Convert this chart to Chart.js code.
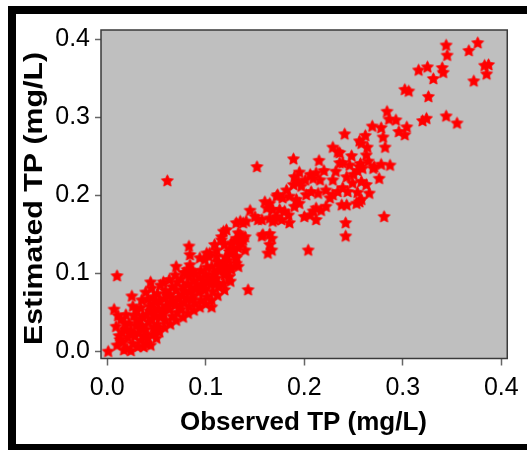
<!DOCTYPE html>
<html>
<head>
<meta charset="utf-8">
<script src="https://cdn.jsdelivr.net/npm/chart.js@4"></script>
<style>
  html, body { margin: 0; padding: 0; background: #fff; }
  canvas { display: block; }
</style>
</head>
<body>
<canvas id="chart" width="527" height="450"></canvas>
<script>
// observed vs estimated total phosphorus
const obsTP = [
  0.344, 0.376, 0.367, 0.345, 0.383, 0.387, 0.385, 0.372, 0.316, 0.325,
  0.340, 0.341, 0.331, 0.302, 0.306, 0.326, 0.284, 0.286, 0.293, 0.320,
  0.324, 0.344, 0.355, 0.269, 0.278, 0.304, 0.296, 0.302, 0.241, 0.262,
  0.256, 0.258, 0.280, 0.264, 0.282, 0.248, 0.263, 0.236, 0.257, 0.256,
  0.246, 0.239, 0.271, 0.278, 0.287, 0.281, 0.242, 0.242, 0.204, 0.266,
  0.256, 0.254, 0.276, 0.270, 0.229, 0.234, 0.189, 0.215, 0.152, 0.236,
  0.265, 0.254, 0.259, 0.232, 0.195, 0.190, 0.220, 0.212, 0.206, 0.243,
  0.250, 0.229, 0.201, 0.209, 0.216, 0.194, 0.189, 0.197, 0.249, 0.258,
  0.263, 0.239, 0.244, 0.222, 0.214, 0.207, 0.202, 0.182, 0.185, 0.178,
  0.173, 0.229, 0.234, 0.226, 0.243, 0.238, 0.258, 0.253, 0.222, 0.217,
  0.212, 0.209, 0.192, 0.195, 0.190, 0.172, 0.165, 0.168, 0.160, 0.162,
  0.175, 0.180, 0.184, 0.200, 0.206, 0.212, 0.185, 0.145, 0.150, 0.153,
  0.157, 0.165, 0.168, 0.135, 0.138, 0.131, 0.157, 0.165, 0.167, 0.135,
  0.131, 0.138, 0.140, 0.130, 0.136, 0.133, 0.165, 0.167, 0.163, 0.140,
  0.128, 0.131, 0.010, 0.025, 0.007, 0.001, 0.024, 0.106, 0.143, 0.119,
  0.050, 0.050, 0.070, 0.083, 0.084, 0.044, 0.035, 0.118, 0.121, 0.116,
  0.109, 0.111, 0.125, 0.126, 0.101, 0.103, 0.131, 0.133, 0.125, 0.119,
  0.108, 0.099, 0.172, 0.177, 0.170, 0.061, 0.141, 0.133, 0.135, 0.158,
  0.116, 0.119, 0.126, 0.124, 0.131, 0.104, 0.099, 0.094, 0.111, 0.114,
  0.119, 0.126, 0.084, 0.087, 0.081,
  // dense low-concentration cloud
  0.010, 0.012, 0.009, 0.014, 0.016, 0.018, 0.020, 0.021, 0.022, 0.024,
  0.026, 0.027, 0.028, 0.029, 0.031, 0.032, 0.033, 0.034, 0.036, 0.038,
  0.011, 0.015, 0.019, 0.017, 0.030, 0.026, 0.034, 0.037, 0.040, 0.044,
  0.041, 0.039, 0.042, 0.040, 0.043, 0.041, 0.039,
  0.046, 0.047, 0.045, 0.048, 0.046, 0.047, 0.045,
  0.053, 0.051, 0.054, 0.052, 0.053, 0.051, 0.054,
  0.058, 0.059, 0.057, 0.060, 0.058, 0.059, 0.057,
  0.064, 0.066, 0.063, 0.065, 0.064, 0.066, 0.063,
  0.070, 0.071, 0.069, 0.072, 0.070, 0.071, 0.069,
  0.077, 0.075, 0.078, 0.076, 0.077, 0.075, 0.078,
  0.082, 0.083, 0.081, 0.084, 0.082, 0.083, 0.081,
  0.088, 0.089, 0.087, 0.090, 0.088, 0.089,
  0.094, 0.095, 0.093, 0.096, 0.094, 0.095,
  0.100, 0.101, 0.099, 0.102, 0.100, 0.101,
  0.106, 0.107, 0.105, 0.108, 0.106,
  0.112, 0.113, 0.111, 0.114, 0.112,
  0.118, 0.119, 0.117, 0.120,
  0.124, 0.125, 0.123,
  0.013, 0.023, 0.035, 0.043, 0.049, 0.055, 0.061, 0.067, 0.073, 0.079,
  0.085, 0.091, 0.097, 0.103, 0.109, 0.115, 0.121, 0.036, 0.049, 0.062,
  0.074, 0.086, 0.098, 0.110, 0.018, 0.030
];
const estTP = [
  0.393, 0.396, 0.386, 0.380, 0.367, 0.368, 0.356, 0.347, 0.361, 0.365,
  0.364, 0.358, 0.350, 0.336, 0.334, 0.327, 0.308, 0.298, 0.297, 0.296,
  0.299, 0.302, 0.293, 0.289, 0.287, 0.288, 0.282, 0.278, 0.279, 0.277,
  0.270, 0.267, 0.275, 0.262, 0.262, 0.251, 0.252, 0.255, 0.241, 0.237,
  0.239, 0.242, 0.237, 0.240, 0.239, 0.173, 0.165, 0.148, 0.130, 0.203,
  0.192, 0.204, 0.222, 0.235, 0.262, 0.256, 0.247, 0.245, 0.237, 0.242,
  0.244, 0.232, 0.235, 0.231, 0.230, 0.224, 0.232, 0.229, 0.227, 0.224,
  0.227, 0.220, 0.220, 0.222, 0.220, 0.218, 0.214, 0.212, 0.216, 0.218,
  0.214, 0.210, 0.205, 0.207, 0.203, 0.205, 0.201, 0.207, 0.199, 0.197,
  0.201, 0.201, 0.205, 0.197, 0.188, 0.188, 0.195, 0.190, 0.186, 0.181,
  0.184, 0.180, 0.195, 0.190, 0.186, 0.199, 0.190, 0.182, 0.192, 0.184,
  0.182, 0.180, 0.175, 0.173, 0.175, 0.169, 0.165, 0.181, 0.173, 0.169,
  0.169, 0.171, 0.167, 0.167, 0.165, 0.165, 0.148, 0.151, 0.145, 0.150,
  0.145, 0.143, 0.147, 0.141, 0.139, 0.133, 0.137, 0.130, 0.126, 0.130,
  0.130, 0.122, 0.097, 0.071, 0.054, 0.000, 0.001, 0.057, 0.079, 0.079,
  0.017, 0.028, 0.109, 0.135, 0.124, 0.089, 0.066, 0.154, 0.156, 0.147,
  0.137, 0.130, 0.130, 0.126, 0.126, 0.122, 0.113, 0.109, 0.090, 0.105,
  0.092, 0.079, 0.173, 0.169, 0.169, 0.219, 0.167, 0.152, 0.143, 0.150,
  0.143, 0.137, 0.139, 0.128, 0.120, 0.126, 0.118, 0.120, 0.122, 0.111,
  0.109, 0.105, 0.111, 0.103, 0.101,
  // dense low-concentration cloud
  0.008, 0.020, 0.032, 0.041, 0.012, 0.028, 0.004, 0.018, 0.036, 0.026,
  0.010, 0.046, 0.020, 0.033, 0.006, 0.024, 0.041, 0.014, 0.030, 0.020,
  0.046, 0.025, 0.047, 0.002, 0.053, 0.058, 0.056, 0.006, 0.010, 0.008,
  0.017, 0.028, 0.038, 0.047, 0.058, 0.067, 0.076,
  0.022, 0.031, 0.041, 0.050, 0.060, 0.070, 0.081,
  0.025, 0.035, 0.044, 0.055, 0.064, 0.074, 0.085,
  0.031, 0.040, 0.049, 0.059, 0.068, 0.078, 0.089,
  0.035, 0.045, 0.054, 0.063, 0.073, 0.083, 0.092,
  0.040, 0.050, 0.060, 0.069, 0.079, 0.089, 0.098,
  0.044, 0.054, 0.063, 0.073, 0.083, 0.093, 0.101,
  0.049, 0.058, 0.068, 0.077, 0.087, 0.096, 0.105,
  0.053, 0.062, 0.072, 0.081, 0.091, 0.100,
  0.057, 0.066, 0.076, 0.085, 0.095, 0.104,
  0.061, 0.070, 0.080, 0.089, 0.099, 0.108,
  0.066, 0.077, 0.087, 0.098, 0.109,
  0.072, 0.083, 0.094, 0.104, 0.115,
  0.087, 0.098, 0.112, 0.121,
  0.096, 0.108, 0.117,
  0.015, 0.023, 0.033, 0.052, 0.045, 0.050, 0.057, 0.064, 0.068, 0.077,
  0.082, 0.086, 0.091, 0.094, 0.102, 0.108, 0.110, 0.045, 0.066, 0.071,
  0.058, 0.067, 0.085, 0.087, 0.036, 0.040
];
const xTicks = [0.0, 0.1, 0.2, 0.3, 0.4];
const yTicks = [0.0, 0.1, 0.2, 0.3, 0.4];
const xLabel = 'Observed TP (mg/L)';
const yLabel = 'Estimated TP (mg/L)';

const FONT = '"Liberation Sans", Arial, Helvetica, sans-serif';

// filled five-point star used as the marker
function makeStar(r) {
  const size = Math.ceil(r * 2) + 2;
  const c = document.createElement('canvas');
  c.width = size;
  c.height = size;
  const g = c.getContext('2d');
  g.translate(size / 2, size / 2 + 0.5);
  g.beginPath();
  for (let i = 0; i < 10; i++) {
    const rad = i % 2 ? r * 0.5 : r;
    const a = -Math.PI / 2 + i * Math.PI / 5;
    g.lineTo(rad * Math.cos(a), rad * Math.sin(a));
  }
  g.closePath();
  g.fillStyle = '#ff0000';
  g.fill();
  g.strokeStyle = '#ff0000';
  g.lineWidth = 0.8;
  g.stroke();
  return c;
}

const points = obsTP.map((x, i) => ({ x: x, y: estTP[i] }));

const framePlugin = {
  id: 'frame',
  beforeDraw(chart) {
    const { ctx, chartArea: a, width, height } = chart;
    ctx.save();
    ctx.fillStyle = '#ffffff';
    ctx.fillRect(0, 0, width, height);
    // thick black frame (right side falls outside the picture)
    ctx.fillStyle = '#000000';
    ctx.fillRect(8, 6, width - 8, 8);
    ctx.fillRect(8, 6, 8, height - 6);
    ctx.fillRect(8, 444, width - 8, 8);
    // grey plot panel
    ctx.fillStyle = '#bfbfbf';
    ctx.fillRect(a.left, a.top, a.right - a.left, a.bottom - a.top);
    ctx.restore();
  },
  afterDraw(chart) {
    const { ctx, chartArea: a } = chart;
    ctx.save();
    ctx.strokeStyle = '#3a3a3a';
    ctx.lineWidth = 1.5;
    ctx.strokeRect(a.left, a.top, a.right - a.left, a.bottom - a.top);

    ctx.fillStyle = '#000';
    ctx.font = 'bold 26px ' + FONT;
    ctx.textAlign = 'center';
    ctx.textBaseline = 'alphabetic';

    // x title
    let w = ctx.measureText(xLabel).width;
    ctx.save();
    ctx.translate(303.5, 429.5);
    ctx.scale(247 / w, 1);
    ctx.fillText(xLabel, 0, 0);
    ctx.restore();

    // y title, a bit stretched like the original
    w = ctx.measureText(yLabel).width;
    ctx.save();
    ctx.translate(42, 198.5);
    ctx.rotate(-Math.PI / 2);
    ctx.scale(293 / w, 1);
    ctx.fillText(yLabel, 0, 0);
    ctx.restore();

    ctx.restore();
  }
};

const tickFont = { family: FONT, size: 25 };

new Chart(document.getElementById('chart'), {
  type: 'scatter',
  data: {
    datasets: [{
      data: points,
      pointStyle: makeStar(6.3),
      pointRadius: 6.3,
      pointHoverRadius: 6.3,
      backgroundColor: '#ff0000',
      borderColor: '#ff0000',
      clip: false
    }]
  },
  options: {
    responsive: false,
    animation: false,
    events: [],
    layout: { padding: { top: 30, right: 19, left: 0, bottom: 0 } },
    plugins: {
      legend: { display: false },
      tooltip: { enabled: false }
    },
    scales: {
      x: {
        type: 'linear',
        min: -0.0063,
        max: 0.406,
        afterBuildTicks: (s) => { s.ticks = xTicks.map(v => ({ value: v })); },
        afterFit: (s) => { s.height = 91.5; },
        border: { display: false },
        grid: {
          drawOnChartArea: false,
          tickLength: 7,
          tickColor: '#666',
          tickWidth: 1.5
        },
        ticks: {
          color: '#000',
          font: tickFont,
          padding: 8,
          maxRotation: 0,
          callback: (v) => Number(v).toFixed(1)
        }
      },
      y: {
        type: 'linear',
        min: -0.0094,
        max: 0.4122,
        afterBuildTicks: (s) => { s.ticks = yTicks.map(v => ({ value: v })); },
        afterFit: (s) => { s.width = 101; },
        border: { display: false },
        grid: {
          drawOnChartArea: false,
          tickLength: 6,
          tickColor: '#666',
          tickWidth: 1.5
        },
        ticks: {
          color: '#000',
          font: tickFont,
          padding: 5,
          callback: (v) => Number(v).toFixed(1)
        }
      }
    }
  },
  plugins: [framePlugin]
});
</script>
</body>
</html>
